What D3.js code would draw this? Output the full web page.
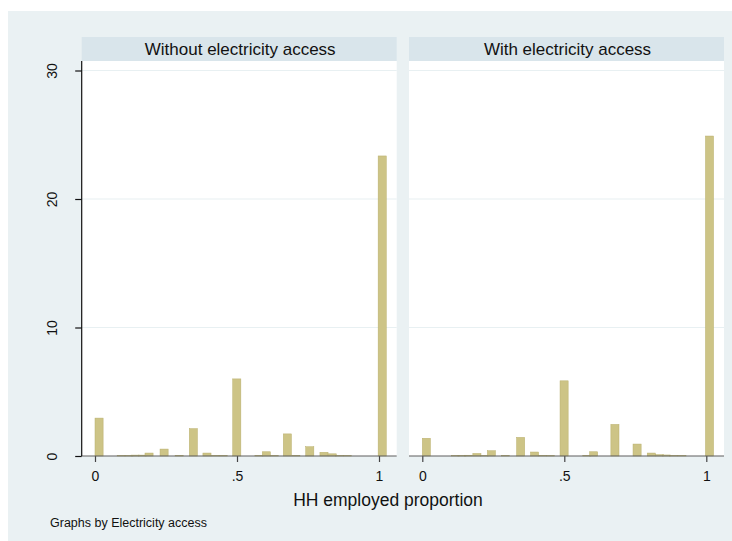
<!DOCTYPE html>
<html>
<head>
<meta charset="utf-8">
<script src="https://cdn.jsdelivr.net/npm/d3@7"></script>
<style>
  html, body { margin: 0; padding: 0; background: #ffffff; }
  svg { display: block; font-family: "Liberation Sans", Arial, sans-serif; }
</style>
</head>
<body>
<svg id="chart" width="732" height="541"></svg>
<script>
// Panel titles (one histogram per electricity-access group)
const panelTitles = ["Without electricity access", "With electricity access"];

// Histogram bins: left edge of each bar (share of HH members employed) and density
const binWidth = 1 / 35;

const binStartNoElec = [0.000, 0.078, 0.105, 0.127, 0.153, 0.176, 0.229, 0.282, 0.332, 0.380, 0.408, 0.437,
                        0.485, 0.563, 0.589, 0.617, 0.663, 0.693, 0.742, 0.792, 0.821, 0.846, 0.874, 0.997];
const densityNoElec  = [2.95, 0.03, 0.03, 0.07, 0.07, 0.23, 0.54, 0.05, 2.13, 0.23, 0.04, 0.04,
                        6.00, 0.04, 0.33, 0.04, 1.72, 0.05, 0.72, 0.29, 0.17, 0.04, 0.03, 23.35];

const binStartElec = [0.000, 0.102, 0.125, 0.149, 0.178, 0.205, 0.229, 0.278, 0.332, 0.381, 0.408, 0.437,
                      0.485, 0.565, 0.589, 0.664, 0.742, 0.792, 0.821, 0.846, 0.871, 0.900, 0.997];
const densityElec  = [1.38, 0.03, 0.03, 0.06, 0.20, 0.03, 0.41, 0.05, 1.45, 0.31, 0.05, 0.03,
                      5.85, 0.04, 0.33, 2.46, 0.93, 0.23, 0.10, 0.08, 0.04, 0.03, 24.90];

const xTickValues = [0, 0.5, 1];
const xTickLabels = ["0", ".5", "1"];
const yTickValues = [0, 10, 20, 30];
const yTickLabels = ["0", "10", "20", "30"];

const xTitle = "HH employed proportion";
const note = "Graphs by Electricity access";

const panelData = [
  { title: panelTitles[0], bins: binStartNoElec.map((x, i) => ({ x, d: densityNoElec[i] })) },
  { title: panelTitles[1], bins: binStartElec.map((x, i) => ({ x, d: densityElec[i] })) }
];

// ---- layout ----
const svg = d3.select("#chart");
const W = 732, H = 541;
const panelLeft = [81.7, 409];
const panelW = 315;
const stripTop = 37, stripH = 24;
const plotTop = 61, plotBottom = 456;

const colors = {
  region: "#eaf1f3",
  strip: "#d9e5eb",
  plot: "#ffffff",
  grid: "#e8f0f2",
  bar: "#cdc486",
  barEdge: "#b9af6c",
  text: "#111111"
};

// outer graph region
svg.append("rect")
  .attr("x", 8).attr("y", 11)
  .attr("width", W - 8).attr("height", H - 11)
  .attr("fill", colors.region);

const x = d3.scaleLinear().domain([0, 1]).range([13.3, 297.3]);
const y = d3.scaleLinear().domain([0, 30]).range([plotBottom, 70.5]);

panelData.forEach((p, pi) => {
  const g = svg.append("g").attr("transform", `translate(${panelLeft[pi]},0)`);

  // strip with panel title
  g.append("rect")
    .attr("x", 0).attr("y", stripTop)
    .attr("width", panelW).attr("height", stripH)
    .attr("fill", colors.strip);
  g.append("text")
    .attr("x", panelW / 2 + 1).attr("y", stripTop + 17.5)
    .attr("text-anchor", "middle")
    .attr("font-size", 17)
    .attr("fill", colors.text)
    .text(p.title);

  // plot region
  g.append("rect")
    .attr("x", 0).attr("y", plotTop)
    .attr("width", panelW).attr("height", plotBottom - plotTop)
    .attr("fill", colors.plot);

  // horizontal grid lines
  g.selectAll("line.grid")
    .data(yTickValues.filter(v => v > 0))
    .join("line")
    .attr("class", "grid")
    .attr("x1", 0).attr("x2", panelW)
    .attr("y1", d => y(d)).attr("y2", d => y(d))
    .attr("stroke", colors.grid)
    .attr("stroke-width", 1.2);

  // bars
  g.selectAll("rect.bar")
    .data(p.bins)
    .join("rect")
    .attr("class", "bar")
    .attr("x", d => x(d.x))
    .attr("width", x(binWidth) - x(0))
    .attr("y", d => y(d.d))
    .attr("height", d => y(0) - y(d.d))
    .attr("fill", colors.bar)
    .attr("stroke", colors.barEdge)
    .attr("stroke-width", 0.5);

  // x axis
  const xAxis = g.append("g")
    .attr("transform", `translate(0,${plotBottom})`)
    .call(d3.axisBottom(x)
      .tickValues(xTickValues)
      .tickFormat((d, i) => xTickLabels[i])
      .tickSize(6)
      .tickSizeOuter(0));
  xAxis.select(".domain").remove();
  xAxis.append("line")
    .attr("x1", 0).attr("x2", panelW)
    .attr("y1", 0).attr("y2", 0)
    .attr("stroke", "#5f5f5f")
    .attr("stroke-width", 1.2);
  xAxis.selectAll(".tick line").attr("stroke", "#444").attr("stroke-width", 1.2);
  xAxis.selectAll(".tick text")
    .attr("y", 25).attr("dy", 0)
    .attr("font-size", 14)
    .attr("font-family", "Liberation Sans, Arial, sans-serif")
    .attr("fill", colors.text);

  // y axis (left panel only)
  if (pi === 0) {
    const yAxis = g.append("g")
      .call(d3.axisLeft(y)
        .tickValues(yTickValues)
        .tickFormat((d, i) => yTickLabels[i])
        .tickSize(6.5)
        .tickSizeOuter(0));
    yAxis.select(".domain").remove();
    yAxis.append("line")
      .attr("x1", 0).attr("x2", 0)
      .attr("y1", plotTop).attr("y2", plotBottom)
      .attr("stroke", "#111")
      .attr("stroke-width", 1.2);
    yAxis.selectAll(".tick line").attr("stroke", "#111").attr("stroke-width", 1.2);
    yAxis.selectAll(".tick text")
      .attr("transform", "rotate(-90)")
      .attr("x", 0).attr("y", -24.7).attr("dy", 0)
      .attr("text-anchor", "middle")
      .attr("font-size", 14)
      .attr("font-family", "Liberation Sans, Arial, sans-serif")
      .attr("fill", colors.text);
  }
});

// x-axis title
svg.append("text")
  .attr("x", 388).attr("y", 506)
  .attr("text-anchor", "middle")
  .attr("font-size", 17.5)
  .attr("fill", colors.text)
  .text(xTitle);

// by-variable note
svg.append("text")
  .attr("x", 50).attr("y", 527)
  .attr("font-size", 12.5)
  .attr("fill", colors.text)
  .text(note);
</script>
</body>
</html>
